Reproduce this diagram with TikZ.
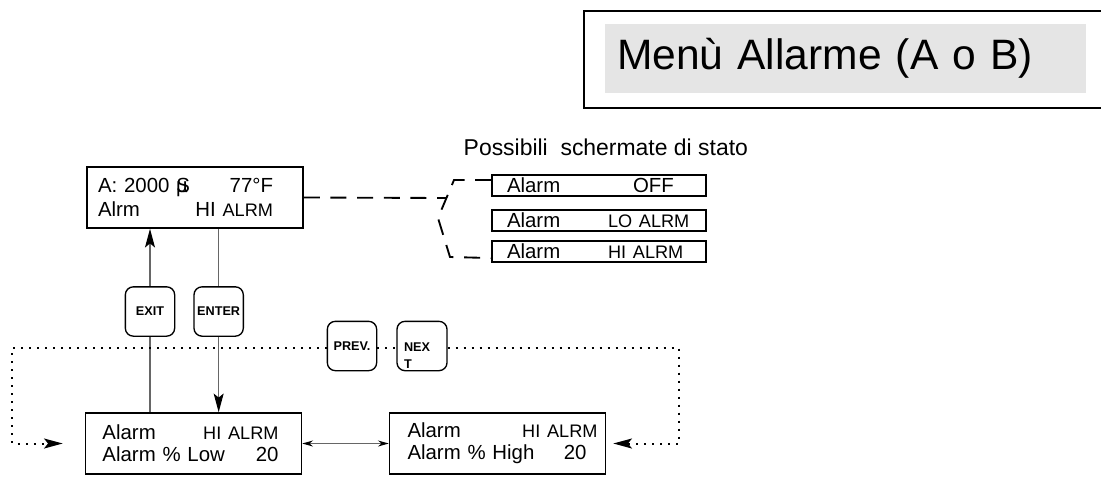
\documentclass[tikz,border=0pt]{standalone}
\usepackage{fontspec}
\setmainfont{Liberation Sans}
\usetikzlibrary{arrows.meta,positioning}
\newcommand\lcdfont{\fontsize{15.3pt}{18pt}\selectfont}
\newcommand\alrmfont{\fontsize{13.6pt}{16pt}\selectfont}
\newcommand\keyfont{\fontsize{9.5pt}{12.75pt}\selectfont\bfseries}
\newcommand\lcdrow[3]{\makebox[#1][l]{#2\hfill#3}}
\newcommand\stcol[2]{\hspace*{11.25pt}\makebox[75.75pt][l]{#1}#2}
\tikzset{>={Stealth[length=14pt,width=7.5pt,inset=3pt,color=black]}}
\tikzstyle{lcd}       = [rectangle, draw, line width=1.2pt, inner sep=0pt, text width=162pt, align=left, minimum height=45.75pt, font=\fontsize{15.3pt}{16.5pt}\selectfont]
\tikzstyle{status}    = [rectangle, draw, line width=1.2pt, inner sep=0pt, text width=160.5pt, align=left, minimum height=15.75pt, font=\lcdfont]
\tikzstyle{key}       = [rectangle, draw, rounded corners=6pt, line width=1pt, minimum size=37pt, inner sep=1pt, font=\keyfont]
\tikzstyle{menutitle} = [rectangle, fill=black!10, inner xsep=9pt, inner ysep=0pt, text width=342.75pt, align=left, minimum height=51.75pt, font=\fontsize{31.9pt}{38pt}\selectfont]
\tikzstyle{thinline}  = [draw=black!60, line width=0.8pt]
\tikzstyle{dashline}  = [line width=1.4pt, dash pattern=on 12pt off 8pt]
\tikzstyle{dotline}   = [line width=1.5pt, dash pattern=on 1.5pt off 4.5pt]

\begin{document}
\begin{tikzpicture}[x=0.75pt, y=-0.75pt]
  \useasboundingbox (0,0) rectangle (1101,476);
  % title
  \draw[line width=1.2pt] (584,11) rectangle (1110,108);
  \node[menutitle] (title) at (845.5,58) {Menù Allarme (A o B)};
  % displays
  \node[lcd, font=\lcdfont] (disp) at (195,197.5)
    {\hspace*{8.25pt}\lcdrow{131.25pt}{A: 2000 \rlap{µ}S}{77°F}\\
     \hspace*{8.25pt}\lcdrow{131.25pt}{Alrm}{HI {\alrmfont ALRM}}};
  \node[anchor=base west, font=\fontsize{17.2pt}{20pt}\selectfont] (possib) at (459,155) {Possibili\ \ schermate di stato};
  \node[status] (st1) at (599,185.5) {\stcol{Alarm}{\hspace*{18.75pt}OFF}};
  \node[status, below=9.3pt of st1] (st2) {\stcol{Alarm}{\alrmfont LO ALRM}};
  \node[status, below=6.3pt of st2] (st3) {\stcol{Alarm}{\alrmfont HI ALRM}};
  \node[lcd] (lowbox) at (193.5,443.5)
    {\hspace*{12.75pt}\lcdrow{132pt}{Alarm}{\alrmfont HI ALRM}\\
     \hspace*{12.75pt}\lcdrow{132pt}{Alarm \% Low}{20}};
  \node[lcd, right=64.8pt of lowbox] (highbox)
    {\hspace*{13.5pt}\lcdrow{142.5pt}{Alarm}{\alrmfont HI ALRM}\\
     \hspace*{13.5pt}\lcdrow{142.5pt}{Alarm \% High}{20\hspace*{8.25pt}}};
  % keys
  \node[key] (exit) at (150,311.5) {EXIT};
  \node[key, right=13.5pt of exit] (enter) {ENTER};
  \node[key] (prev) at (352,346) {PREV.};
  \node[key, right=14.25pt of prev, align=left, text width=27pt, inner xsep=5.25pt] (next) {\rule{0pt}{21pt}NEX\\T};
  % status branch
  \coordinate (brjoin) at (446,198);
  \coordinate (brtop) at (454,180);
  \coordinate (brtip) at (438,218);
  \coordinate (brbot) at (450,257);
  \draw[dashline] (disp.east) -- (brjoin);
  \draw[dashline] ([yshift=4.1pt]st1.west) -- (brtop) -- (brtip) -- (brbot) -- ([yshift=-4.9pt]st3.west);
  % key connectors
  \draw[thinline] (lowbox.north -| exit) -- (exit.south);
  \draw[thinline, ->] (exit.north) -- (exit |- disp.south);
  \draw[thinline] (disp.south -| enter) -- (enter.north);
  \draw[thinline, ->] (enter.south) -- (enter |- lowbox.north);
  \draw[thinline, {Stealth[length=8pt,width=4.5pt,color=black]}-{Stealth[length=8pt,width=4.5pt,color=black]}] (lowbox.east) -- (highbox.west);
  % prev / next loop
  \coordinate (lt) at (12,348);
  \coordinate (rt) at (679,348);
  \draw[dotline, ->] (prev.west |- lt) -- (lt) |- ([xshift=-16.5pt]lowbox.west);
  \draw[dotline] (prev.east |- lt) -- (next.west |- lt);
  \draw[dotline, ->] (next.east |- rt) -- (rt) |- ([xshift=5.25pt]highbox.east);
\end{tikzpicture}
\end{document}
